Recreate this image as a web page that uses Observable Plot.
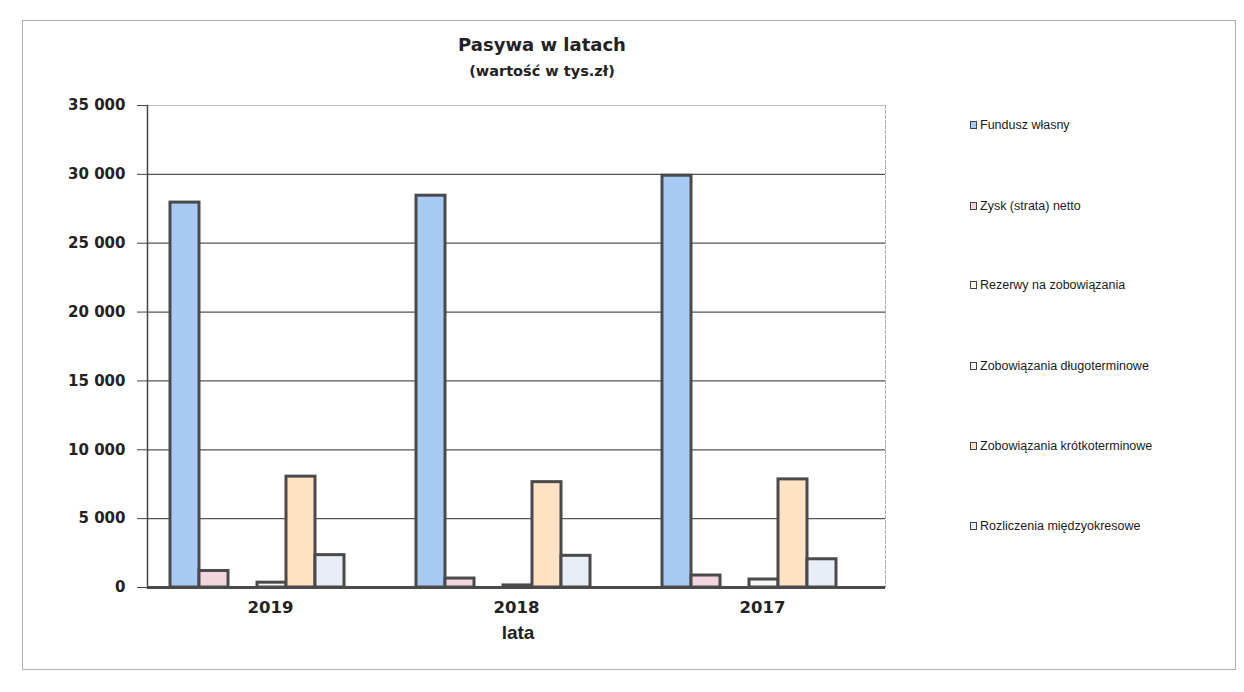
<!DOCTYPE html>
<html>
<head>
<meta charset="utf-8">
<script src="https://cdn.jsdelivr.net/npm/d3@7"></script>
<script src="https://cdn.jsdelivr.net/npm/@observablehq/plot@0.6"></script>
<style>
  html, body { margin: 0; padding: 0; background: #fff; }
  #wrap { position: relative; width: 1244px; height: 692px; overflow: hidden; }
  #wrap svg { position: absolute; left: 0; top: 0; }
  .frame { position: absolute; left: 22px; top: 20px; width: 1214px; height: 650px; border: 1.5px solid #b0b0b0; box-sizing: border-box; }
  .title { position: absolute; left: 0; width: 1084px; text-align: center; font-family: "DejaVu Sans", sans-serif; font-weight: bold; color: #222; }
  .xlab { position: absolute; left: 0; width: 1036px; text-align: center; font-family: "Liberation Sans", Arial, sans-serif; font-weight: bold; color: #222; }
  .legend { position: absolute; left: 970px; top: 0; font-family: "Liberation Sans", Arial, sans-serif; font-size: 12.5px; color: #1a1a1a; }
  .legend .item { position: absolute; white-space: nowrap; display: flex; align-items: center; }
  .legend .sw { width: 5px; height: 6px; border: 1.5px solid #444; margin-right: 3px; }
</style>
</head>
<body>
<div id="wrap"></div>
<script>
// ---- data ----
const years = ["2019", "2018", "2017"];
const series = [
  "Fundusz własny",
  "Zysk (strata) netto",
  "Rezerwy na zobowiązania",
  "Zobowiązania długoterminowe",
  "Zobowiązania krótkoterminowe",
  "Rozliczenia międzyokresowe"
];
const funduszWlasny = [27950, 28450, 29900];
const zyskNetto = [1200, 650, 870];
const rezerwy = [0, 0, 0];
const zobDlugo = [350, 150, 580];
const zobKrotko = [8050, 7650, 7850];
const rozliczenia = [2350, 2300, 2050];
const yTicks = [0, 5000, 10000, 15000, 20000, 25000, 30000, 35000];
const colors = ["#a9cbf3", "#f3d5dd", "#fbf8ec", "#f7f7f5", "#fde3c4", "#e9eef6"];
const titleText = "Pasywa w latach";
const subtitleText = "(wartość w tys.zł)";
const xTitle = "lata";

const values = [funduszWlasny, zyskNetto, rezerwy, zobDlugo, zobKrotko, rozliczenia];
const data = years.flatMap((yr, i) => series.map((s, j) => ({year: yr, series: s, value: values[j][i]})));
const fmt = d => d3.format(",")(d).replace(/,/g, " ");

const chart = Plot.plot({
  width: 1244,
  height: 692,
  marginLeft: 147,
  marginRight: 359,
  marginTop: 105,
  marginBottom: 105,
  style: {background: "transparent", fontFamily: "DejaVu Sans, sans-serif", color: "#222"},
  fx: {domain: years, padding: 0},
  x: {domain: series, paddingInner: 0, paddingOuter: 1.17, align: 0.32, axis: null},
  y: {domain: [0, 35000]},
  color: {domain: series, range: colors},
  marks: [
    Plot.ruleY(yTicks.filter(t => t > 0 && t < 35000), {stroke: "#555", strokeWidth: 1.2}),
    Plot.ruleY([35000], {stroke: "#bbb", strokeWidth: 1.2}),
    Plot.frame({anchor: "right", facetAnchor: "right", stroke: "#aaa", strokeDasharray: "3,2"}),
    Plot.barY(data, {fx: "year", x: "series", y: "value", fill: "series", stroke: "#4a4a4a", strokeWidth: 3, inset: 0}),
    Plot.ruleY([0], {stroke: "#4a4a4a", strokeWidth: 3}),
    Plot.frame({anchor: "left", facetAnchor: "left", stroke: "#444", strokeWidth: 1.5}),
    Plot.axisY({ticks: yTicks, tickSize: 10, tickPadding: 12, tickFormat: fmt, fontSize: 15, fontWeight: "bold", stroke: "#444", label: null}),
    Plot.axisFx({anchor: "bottom", tickSize: 0, tickPadding: 14, fontSize: 16.5, fontWeight: "bold", label: null})
  ]
});

const wrap = document.getElementById("wrap");
wrap.appendChild(chart);

const frame = document.createElement("div");
frame.className = "frame";
wrap.appendChild(frame);

const t = document.createElement("div");
t.className = "title";
t.style.top = "34px"; t.style.fontSize = "18px";
t.textContent = titleText;
wrap.appendChild(t);

const st = document.createElement("div");
st.className = "title";
st.style.top = "63px"; st.style.fontSize = "14.5px";
st.textContent = subtitleText;
wrap.appendChild(st);

const xl = document.createElement("div");
xl.className = "xlab";
xl.style.top = "622px"; xl.style.fontSize = "19px";
xl.textContent = xTitle;
wrap.appendChild(xl);

const lg = document.createElement("div");
lg.className = "legend";
const legendTops = [118, 199, 278, 359, 439, 519];
series.forEach((s, i) => {
  const it = document.createElement("div");
  it.className = "item";
  it.style.top = legendTops[i] + "px";
  const sw = document.createElement("span");
  sw.className = "sw";
  sw.style.background = colors[i];
  it.appendChild(sw);
  const tx = document.createElement("span");
  tx.textContent = s;
  it.appendChild(tx);
  lg.appendChild(it);
});
wrap.appendChild(lg);
</script>
</body>
</html>
